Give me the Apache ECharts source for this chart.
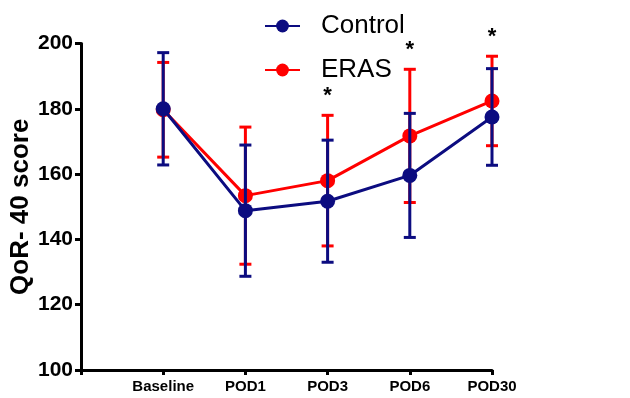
<!DOCTYPE html>
<html>
<head>
<meta charset="utf-8">
<script src="https://cdn.jsdelivr.net/npm/echarts@6/dist/echarts.min.js"></script>
<style>
  html, body { margin: 0; padding: 0; background: #fff; }
  #main { width: 630px; height: 398px; }
</style>
</head>
<body>
<div id="main"></div>
<script>
// time points (x = 1..5 on the axis, 0 is left empty)
var timePoints = ['Baseline', 'POD1', 'POD3', 'POD6', 'POD30'];

// QoR-40 mean and SD
var controlMean = [180.0, 148.8, 151.7, 159.6, 177.5];
var controlSd = [17.2, 20.1, 18.7, 19.0, 14.8];
var erasMean = [179.7, 153.4, 158.0, 171.7, 182.4];
var erasSd = [14.5, 21.0, 20.0, 20.4, 13.7];

// significance marks above ERAS
var sigMarks = ['', '', '*', '*', '*'];

var yTicks = [100, 120, 140, 160, 180, 200];

var fontMain = '"Liberation Sans", Arial, sans-serif';
var navy = '#0c0c80';
var red = '#ff0000';

function lineData(mean) {
  return mean.map(function (v, i) { return [i + 1, v]; });
}
function barData(mean, sd) {
  return mean.map(function (v, i) {
    return [i + 1, v - sd[i], v + sd[i]];
  });
}

function errorBarItem(params, api) {
  var x = api.value(0);
  var top = api.coord([x, api.value(2)]);
  var bot = api.coord([x, api.value(1)]);
  var mark = sigMarksFor(params.seriesName)[params.dataIndex];
  var w = 6;
  var style = { stroke: api.visual('color'), lineWidth: 3 };
  var children = [
    { type: 'line', shape: { x1: top[0], y1: top[1], x2: bot[0], y2: bot[1] }, style: style },
    { type: 'line', shape: { x1: top[0] - w, y1: top[1], x2: top[0] + w, y2: top[1] }, style: style },
    { type: 'line', shape: { x1: bot[0] - w, y1: bot[1], x2: bot[0] + w, y2: bot[1] }, style: style }
  ];
  if (mark) {
    children.push({
      type: 'text',
      style: {
        text: mark, x: top[0], y: top[1] - 8,
        align: 'center', verticalAlign: 'bottom',
        font: 'bold 22px ' + fontMain, fill: '#000'
      }
    });
  }
  return { type: 'group', children: children };
}
function sigMarksFor(name) {
  return name === 'ERAS bars' ? sigMarks : ['', '', '', '', ''];
}

var chart = echarts.init(document.getElementById('main'));
chart.setOption({
  animation: false,
  textStyle: { fontFamily: fontMain },
  grid: { left: 81, right: 138, top: 43.5, bottom: 28, outerBoundsMode: 'none', containLabel: false },
  legend: {
    data: ['Control', 'ERAS'],
    orient: 'vertical',
    left: 259,
    top: 8,
    itemWidth: 35,
    itemHeight: 16,
    itemGap: 18,
    textStyle: { fontSize: 26, color: '#000', padding: [0, 0, 0, 16] }
  },
  xAxis: {
    type: 'value',
    min: 0,
    max: 5,
    interval: 1,
    splitLine: { show: false },
    axisLine: { lineStyle: { color: '#000', width: 3 } },
    axisTick: { length: 5, lineStyle: { color: '#000', width: 3 } },
    axisLabel: {
      margin: 9,
      color: '#000',
      fontWeight: 'bold',
      fontSize: 15,
      formatter: function (v) { return v >= 1 ? timePoints[v - 1] : ''; }
    }
  },
  yAxis: {
    type: 'value',
    min: yTicks[0],
    max: yTicks[yTicks.length - 1],
    interval: 20,
    name: 'QoR- 40 score',
    nameLocation: 'middle',
    nameGap: 47,
    nameMoveOverlap: false,
    nameTextStyle: { fontSize: 26, fontWeight: 'bold', color: '#000' },
    splitLine: { show: false },
    axisLine: { show: true, lineStyle: { color: '#000', width: 3 } },
    axisTick: { show: true, length: 6, lineStyle: { color: '#000', width: 3 } },
    axisLabel: { margin: 8, color: '#000', fontWeight: 'bold', fontSize: 21 }
  },
  series: [
    {
      name: 'ERAS bars',
      type: 'custom',
      renderItem: errorBarItem,
      itemStyle: { color: red },
      encode: { x: 0, y: [1, 2] },
      data: barData(erasMean, erasSd),
      z: 2
    },
    {
      name: 'ERAS',
      type: 'line',
      data: lineData(erasMean),
      symbol: 'circle',
      symbolSize: 15,
      itemStyle: { color: red },
      lineStyle: { color: red, width: 3 },
      z: 3
    },
    {
      name: 'Control bars',
      type: 'custom',
      renderItem: errorBarItem,
      itemStyle: { color: navy },
      encode: { x: 0, y: [1, 2] },
      data: barData(controlMean, controlSd),
      z: 4
    },
    {
      name: 'Control',
      type: 'line',
      data: lineData(controlMean),
      symbol: 'circle',
      symbolSize: 15,
      itemStyle: { color: navy },
      lineStyle: { color: navy, width: 3 },
      z: 5
    }
  ]
});
</script>
</body>
</html>
